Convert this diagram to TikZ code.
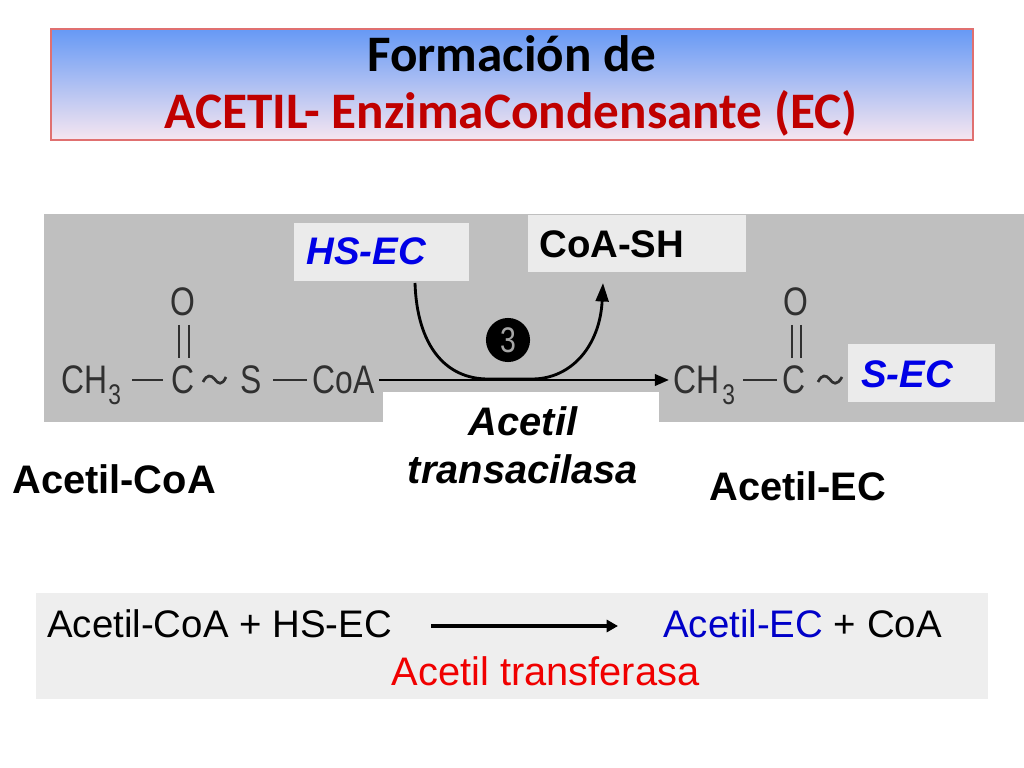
\documentclass[tikz,border=0pt]{standalone}
\usepackage{fontspec}
\setmainfont{Liberation Sans}
\newfontfamily\calibri{Carlito}
\usetikzlibrary{arrows.meta}
\definecolor{bggray}{HTML}{BFBFBF}
\definecolor{boxgray}{HTML}{EBEBEB}
\definecolor{botgray}{HTML}{EEEEEE}
\definecolor{chemgray}{HTML}{303030}
\definecolor{titletop}{HTML}{6699F5}
\definecolor{titlebot}{HTML}{F6E6F0}
\definecolor{titleborder}{HTML}{E07070}
\definecolor{titlered}{HTML}{C00000}
\definecolor{ecblue}{HTML}{0000E6}
\definecolor{ecblue2}{HTML}{0000C8}
\definecolor{enzred}{HTML}{F00000}
\newcommand{\chemtxt}[1]{\scalebox{0.8}[1]{#1}}
\begin{document}
\begin{tikzpicture}[x=0.703125pt,y=-0.703125pt,
  titlefont/.style={font=\calibri\bfseries\fontsize{36}{40}\selectfont, anchor=base, inner sep=0pt},
  chem/.style={font=\fontsize{28}{30}\selectfont, text=chemgray, inner sep=0pt},
  chemsub/.style={font=\fontsize{20}{22}\selectfont, text=chemgray, inner sep=0pt, anchor=base west},
  bond/.style={draw=chemgray, line width=1.9pt},
  lblbox/.style={fill=boxgray, inner sep=0pt},
  lbl/.style={font=\bfseries\fontsize{27}{30}\selectfont, inner sep=0pt, anchor=base west},
  big/.style={font=\bfseries\fontsize{28}{30}\selectfont, inner sep=0pt},
  eq/.style={font=\fontsize{27}{30}\selectfont, inner sep=0pt}]
\useasboundingbox (0,0) rectangle (1024,768);
\fill[white] (0,0) rectangle (1024,768);
% title
\shade[top color=titletop, bottom color=titlebot] (51,29) rectangle (973,140);
\draw[titleborder, line width=0.8pt] (51,29) rectangle (973,140);
\node[titlefont] (t1) at (512,72) {Formación de};
\node[titlefont, text=titlered] (t2) at (511,129) {ACETIL- EnzimaCondensante (EC)};
% gray panel
\fill[bggray] (44,214) rectangle (1024,422);
\fill[white] (383,392) rectangle (659,422);
% label boxes
\node[lblbox, minimum width=123.05pt, minimum height=40.8pt] (hsbox) at (381.5,252) {};
\node[lbl, text=ecblue, font=\bfseries\itshape\fontsize{27}{30}\selectfont] (hs) at (306,265) {HS-EC};
\node[lblbox, minimum width=153.3pt, minimum height=40.1pt] (coabox) at (637,243.5) {};
\node[lbl] (coash) at (539,258) {CoA-SH};
\node[lblbox, minimum width=103.4pt, minimum height=40.8pt] (secbox) at (921.5,373) {};
\node[lbl, text=ecblue, font=\bfseries\itshape\fontsize{27}{30}\selectfont] (sec) at (861,387) {S-EC};
% left structure
\node[chem, anchor=base west] (ch1) at (61,393) {\chemtxt{CH}};
\node[chemsub] (s1) at (108,404) {\chemtxt{3}};
\node[chem, anchor=base] (c1) at (183,393) {\chemtxt{C}};
\node[chem, anchor=base] (o1) at (183,316) {\chemtxt{O}};
\node[chem, anchor=base west] (sl) at (240,393) {\chemtxt{S}};
\node[chem, anchor=base west] (coa1) at (312,393) {\chemtxt{CoA}};
\draw[bond] (132,380) -- (163,380);
\draw[bond] (179,325) -- (179,358);
\draw[bond] (189,325) -- (189,358);
\draw[bond] (203,382) .. controls (207,374) and (211,375) .. (214.5,379) .. controls (218,384) and (222,386) .. (226,377);
\draw[bond] (273,380) -- (307,380);
% right structure
\node[chem, anchor=base west] (ch2) at (673,393) {\chemtxt{CH}};
\node[chemsub] (s2) at (722,404) {\chemtxt{3}};
\node[chem, anchor=base] (c2) at (794,393) {\chemtxt{C}};
\node[chem, anchor=base] (o2) at (796,316) {\chemtxt{O}};
\draw[bond] (743,380) -- (777,380);
\draw[bond] (792,325) -- (792,358);
\draw[bond] (801,325) -- (801,358);
\draw[bond] (818,382) .. controls (822,374) and (826,375) .. (829.5,379) .. controls (833,384) and (837,386) .. (842,377);
% main arrow
\coordinate (a0) at (379,380);
\coordinate (a1) at (669,380);
\draw[line width=2pt, -{Triangle[length=10pt,width=8pt]}] (a0) -- (a1);
% curved arrow
\coordinate (c0) at (415,283);
\coordinate (cend) at (603,283);
\draw[line width=2pt, -{Triangle[length=13pt,width=9pt]}] (c0) .. controls (417,345) and (445,379) .. (488,379) -- (532,379) .. controls (572,379) and (600,345) .. (cend);
\node[circle, fill=black, minimum size=31pt, inner sep=0pt, text=gray!70, font=\fontsize{25}{26}\selectfont] (n3) at (508,340) {\chemtxt{3}};
% labels
\node[big, font=\bfseries\itshape\fontsize{28}{30}\selectfont, anchor=base] (enz1) at (523,435) {Acetil};
\node[big, font=\bfseries\itshape\fontsize{28}{30}\selectfont, anchor=base] (enz2) at (523,483) {transacilasa};
\node[big, anchor=base west] (acoa) at (12,493) {Acetil-CoA};
\node[big, anchor=base west] (aec) at (709,500) {Acetil-EC};
% bottom equation
\fill[botgray] (36,593) rectangle (988,699);
\node[eq, anchor=base west] (lhs) at (47,637) {Acetil-CoA + HS-EC};
\node[eq, anchor=base west] (rhs) at (663,637) {\textcolor{ecblue2}{Acetil-EC} + CoA};
\coordinate (b0) at (431,626);
\coordinate (b1) at (618,626);
\draw[line width=2.8pt, -{Triangle[length=8pt,width=8.5pt]}] (b0) -- (b1);
\node[eq, font=\fontsize{28}{30}\selectfont, text=enzred, anchor=base] (tr) at (545.5,685) {Acetil transferasa};
\end{tikzpicture}
\end{document}
